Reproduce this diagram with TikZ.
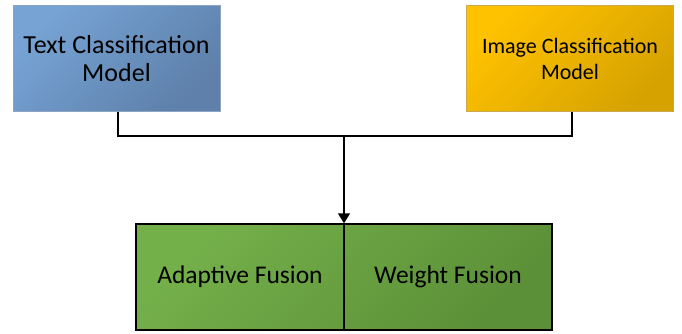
\documentclass[tikz,border=0pt]{standalone}
\usepackage{fontspec}
\setmainfont{Carlito}
\usetikzlibrary{arrows.meta}
\definecolor{bluetl}{RGB}{118,163,212}
\definecolor{bluebr}{RGB}{94,128,170}
\definecolor{blueborder}{RGB}{140,165,195}
\definecolor{goldtl}{RGB}{255,194,0}
\definecolor{goldbr}{RGB}{214,162,0}
\definecolor{goldborder}{RGB}{200,170,80}
\definecolor{greentl}{RGB}{116,176,74}
\definecolor{greenbr}{RGB}{92,144,56}
\tikzset{
  modelbox/.style={draw, line width=0.8pt, minimum width=207pt, minimum height=106pt, inner sep=0pt, align=center, text=black},
  fusebox/.style={draw=black, line width=1.4pt, minimum width=208pt, minimum height=106pt, inner sep=0pt, align=center, text=black},
  conn/.style={line width=1.4pt, black},
}
\begin{document}
\begin{tikzpicture}[x=1pt,y=-1pt]
\useasboundingbox (0,0) rectangle (682,333);
\node[modelbox, draw=blueborder, top color=bluetl, bottom color=bluebr, shading angle=45,
      font=\fontsize{26}{28}\selectfont] (text) at (116.5,58.5) {Text Classification\\Model};
\node[modelbox, draw=goldborder, top color=goldtl, bottom color=goldbr, shading angle=45,
      font=\fontsize{22}{26}\selectfont] (image) at (570,58.5) {Image Classification\\Model};
\shade[top color=greentl, bottom color=greenbr, shading angle=45] (136,224) rectangle (552,330);
\node[fusebox, font=\fontsize{25.5}{28}\selectfont] (adaptive) at (240,277) {Adaptive Fusion};
\node[fusebox, font=\fontsize{25.5}{28}\selectfont] (weight) at (448,277) {Weight Fusion};
\coordinate (join) at (344,136);
\draw[conn] ([xshift=1.5pt]text.south) |- (join) -| ([xshift=2pt]image.south);
\draw[conn, -{Triangle[width=12pt,length=10pt]}] (join) -- (join |- adaptive.north);
\end{tikzpicture}
\end{document}
